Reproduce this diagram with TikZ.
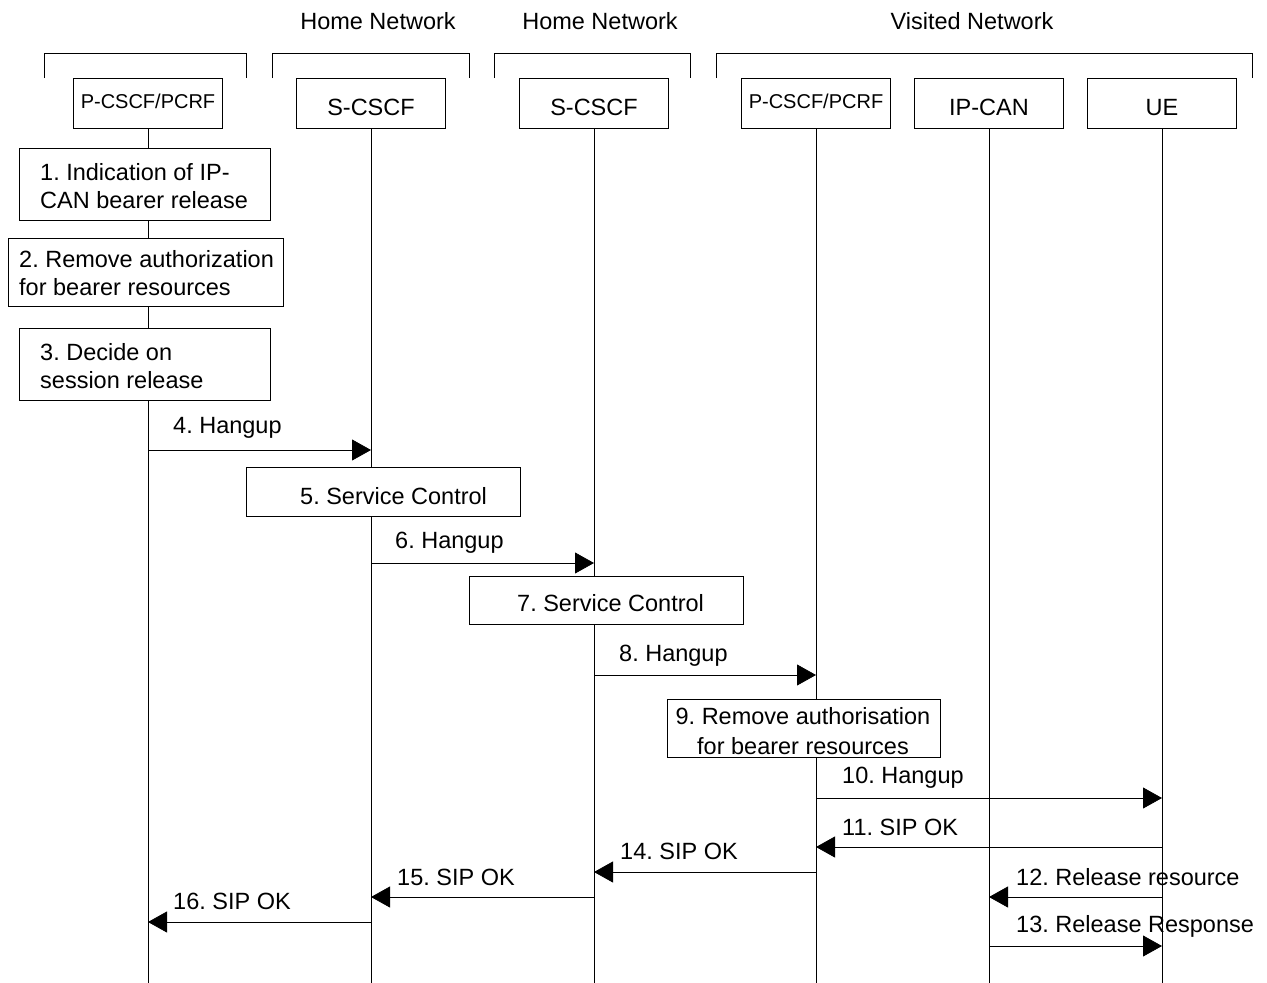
\documentclass[tikz,border=0pt]{standalone}
\usepackage{fontspec}
\setmainfont{Liberation Sans}
\usetikzlibrary{arrows.meta}
\frenchspacing
\begin{document}
\begin{tikzpicture}[x=1pt,y=-1pt,
  every node/.style={font=\fontsize{23.5}{28}\selectfont\frenchspacing},
  part/.style={draw, line width=0.8pt, fill=white, minimum width=149pt, minimum height=50pt, inner sep=0pt, text height=24pt, text depth=0pt},
  partsm/.style={part, text height=10pt, text depth=0pt, font=\fontsize{20}{24}\selectfont},
  act/.style={draw, line width=0.8pt, fill=white, inner sep=0pt},
  txt/.style={inner sep=0pt, anchor=west, align=left},
  life/.style={line width=0.8pt},
  brk/.style={line width=0.8pt},
  msg/.style={line width=0.8pt, -{Triangle[length=19pt,width=21pt]}}]
\useasboundingbox (0,0) rectangle (1267,983);

% group labels
\node (hn1) at (378,21) {Home Network};
\node (hn2) at (600,21) {Home Network};
\node (vn) at (972,21) {Visited Network};

% brackets
\draw[brk] (44,78) -- (44,53) -- (246,53) -- (246,78);
\draw[brk] (272,78) -- (272,53) -- (469,53) -- (469,78);
\draw[brk] (494,78) -- (494,53) -- (690,53) -- (690,78);
\draw[brk] (716,78) -- (716,53) -- (1252,53) -- (1252,78);

% participants
\node[partsm] (pc1) at (148,103) {P-CSCF/PCRF};
\node[part] (sc1) at (371,103) {S-CSCF};
\node[part] (sc2) at (594,103) {S-CSCF};
\node[partsm] (pc2) at (816,103) {P-CSCF/PCRF};
\node[part] (ipc) at (989,103) {IP-CAN};
\node[part] (ue) at (1162,103) {UE};

% lifeline ends
\coordinate (e1) at (148,983);
\coordinate (e2) at (371,983);
\coordinate (e3) at (594,983);
\coordinate (e4) at (816,983);
\coordinate (e5) at (989,983);
\coordinate (e6) at (1162,983);
\draw[life] (pc1) -- (e1);
\draw[life] (sc1) -- (e2);
\draw[life] (sc2) -- (e3);
\draw[life] (pc2) -- (e4);
\draw[life] (ipc) -- (e5);
\draw[life] (ue) -- (e6);

% action boxes
\node[act, minimum width=251pt, minimum height=72pt] (b1) at (144.5,184) {};
\node[txt] (b1t) at (40,186) {1. Indication of IP-\\CAN bearer release};
\node[act, minimum width=275pt, minimum height=68pt] (b2) at (145.5,272) {};
\node[txt] (b2t) at (19,273) {2. Remove authorization\\for bearer resources};
\node[act, minimum width=251pt, minimum height=72pt] (b3) at (144.5,364) {};
\node[txt] (b3t) at (40,366) {3. Decide on\\session release};
\node[act, minimum width=274pt, minimum height=49pt] (b5) at (383,491.5) {};
\node[txt] (b5t) at (300,496) {5. Service Control};
\node[act, minimum width=274pt, minimum height=48pt] (b7) at (606,600) {};
\node[txt] (b7t) at (517,603) {7. Service Control};
\node[act, minimum width=273pt, minimum height=58pt] (b9) at (803.5,728) {};
\node[inner sep=0pt, align=center, font=\fontsize{23.5}{30}\selectfont\frenchspacing] (b9t) at (803,731) {9. Remove authorisation\\for bearer resources};

% message endpoints
\coordinate (m4a) at (148,450);  \coordinate (m4b) at (371,450);
\coordinate (m6a) at (371,563);  \coordinate (m6b) at (594,563);
\coordinate (m8a) at (594,675);  \coordinate (m8b) at (816,675);
\coordinate (m10a) at (816,798); \coordinate (m10b) at (1162,798);
\coordinate (m11a) at (1162,847); \coordinate (m11b) at (816,847);
\coordinate (m14a) at (816,872); \coordinate (m14b) at (594,872);
\coordinate (m15a) at (594,897); \coordinate (m15b) at (371,897);
\coordinate (m16a) at (371,922); \coordinate (m16b) at (148,922);
\coordinate (m12a) at (1162,897); \coordinate (m12b) at (989,897);
\coordinate (m13a) at (989,946); \coordinate (m13b) at (1162,946);

\draw[msg] (m4a) -- (m4b);
\draw[msg] (m6a) -- (m6b);
\draw[msg] (m8a) -- (m8b);
\draw[msg] (m10a) -- (m10b);
\draw[msg] (m11a) -- (m11b);
\draw[msg] (m14a) -- (m14b);
\draw[msg] (m15a) -- (m15b);
\draw[msg] (m16a) -- (m16b);
\draw[msg] (m12a) -- (m12b);
\draw[msg] (m13a) -- (m13b);

% message labels
\node[txt] (l4) at (173,428) {4. Hangup};
\node[txt] (l6) at (395,543) {6. Hangup};
\node[txt] (l8) at (619,656) {8. Hangup};
\node[txt] (l10) at (842,778) {10. Hangup};
\node[txt] (l11) at (842,827) {11. SIP OK};
\node[txt] (l14) at (620,851) {14. SIP OK};
\node[txt] (l15) at (397,877) {15. SIP OK};
\node[txt] (l16) at (173,901) {16. SIP OK};
\node[txt] (l12) at (1016,877) {12. Release resource};
\node[txt] (l13) at (1016,926) {13. Release Response};
\end{tikzpicture}
\end{document}
